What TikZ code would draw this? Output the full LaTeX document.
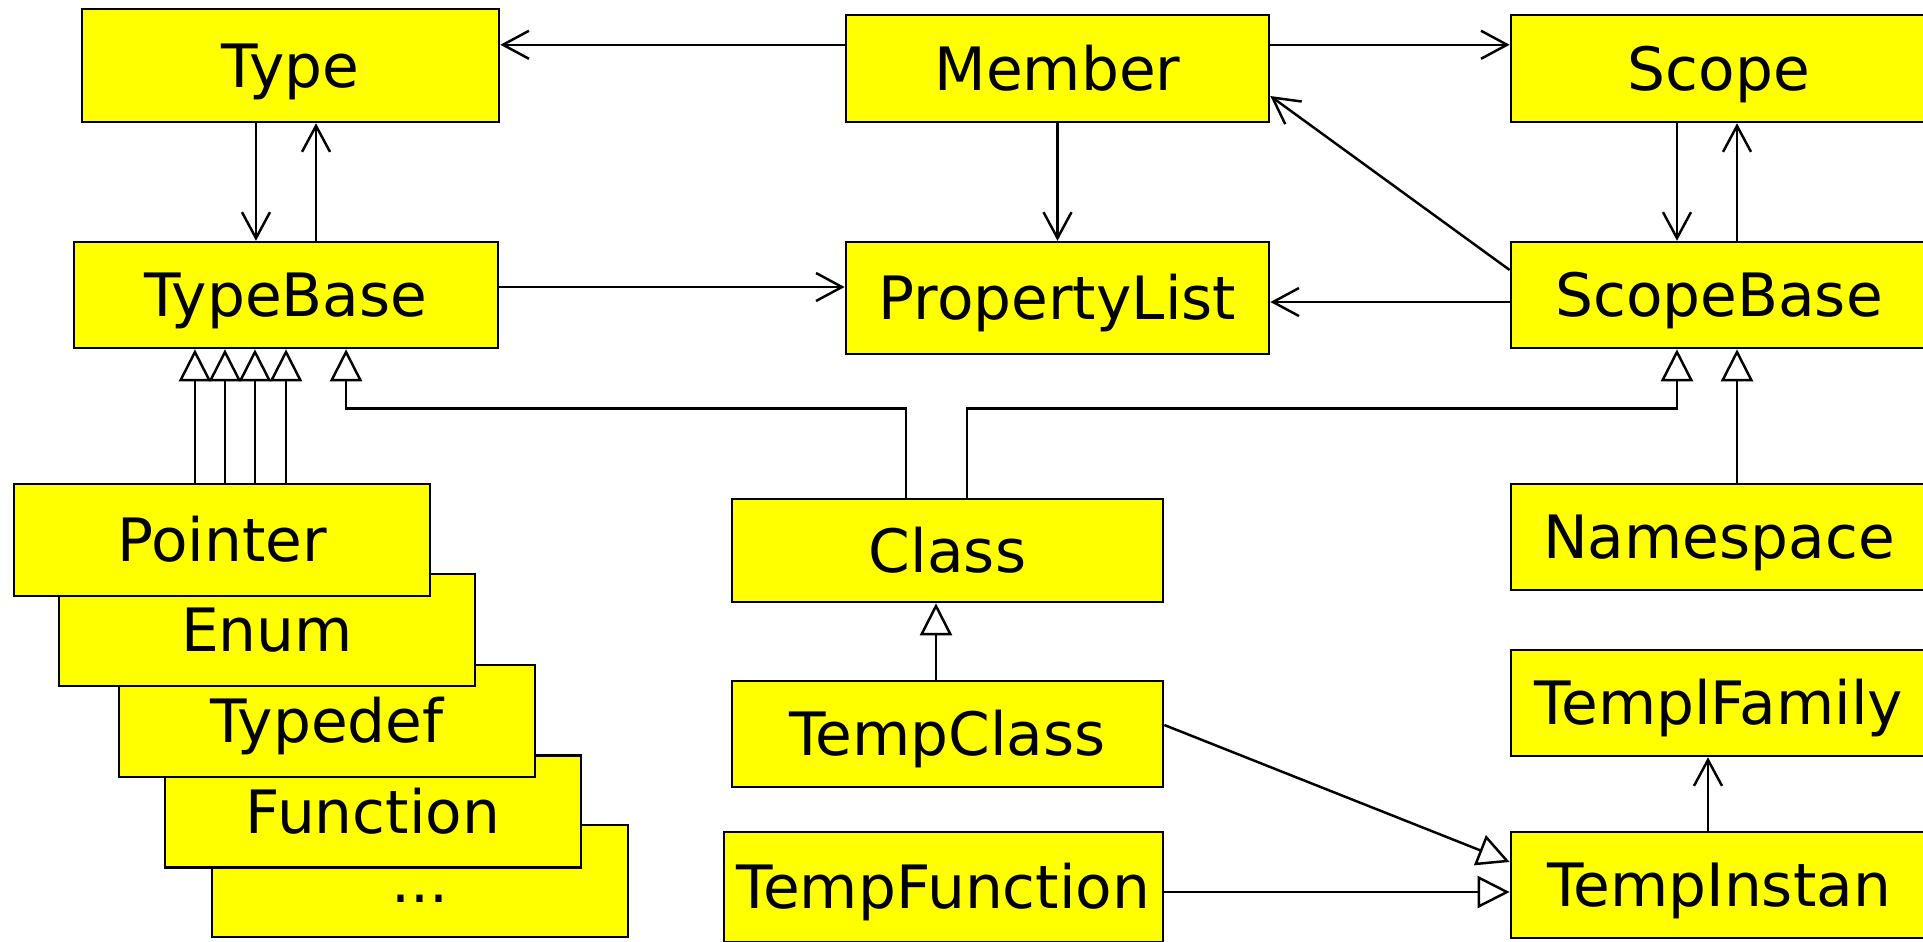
\documentclass[tikz,border=0pt]{standalone}
\usepackage{fontspec}
\setmainfont{DejaVu Sans}
\usetikzlibrary{arrows.meta,backgrounds}

\definecolor{clsfill}{RGB}{255,255,0}
\tikzset{
  cls/.style={draw, fill=clsfill, line width=0.7pt, inner sep=0pt,
    minimum width=4.16cm, minimum height=1.06cm,
    text height=12.4pt, text depth=0pt, font=\fontsize{17}{20}\selectfont},
  assoc/.style={line width=0.7pt, -{Straight Barb[length=0.26cm,width=0.28cm]}},
  inherit/.style={line width=0.7pt, -{Triangle[open,length=0.32cm,width=0.32cm]}},
}

\begin{document}
\begin{tikzpicture}[x=0.01cm, y=-0.01cm]
  \useasboundingbox (0,0) rectangle (1923,941);
  \clip (0,0) rectangle (1923,941);

  \node[cls, minimum width=4.17cm, minimum height=1.13cm] (Type) at (290.5,65.5) {Type};
  \node[cls, minimum width=4.23cm, minimum height=1.07cm] (Member) at (1057.5,68.5) {Member};
  \node[cls, minimum height=1.07cm] (Scope) at (1719,68.5) {Scope};

  \node[cls, minimum width=4.24cm] (TypeBase) at (286,295) {TypeBase};
  \node[cls, minimum width=4.23cm, minimum height=1.12cm] (PropertyList) at (1057.5,298) {PropertyList};
  \node[cls] (ScopeBase) at (1719,295) {ScopeBase};

  % stacked subtypes, back to front
  \node[cls, minimum height=1.12cm] (Dots) at (420,881) {...};
  \foreach \name/\cx/\cy in {Function/373/811.5, Typedef/327/721, Enum/267/630, Pointer/222/540}
    \node[cls, minimum height=1.12cm] (\name) at (\cx,\cy) {\name};

  \node[cls, minimum width=4.31cm, minimum height=1.03cm] (Class) at (947.5,550.5) {Class};
  \node[cls] (Namespace) at (1719,537) {Namespace};
  \node[cls, minimum width=4.31cm] (TempClass) at (947.5,734) {TempClass};
  \node[cls] (TemplFamily) at (1719,703) {TemplFamily};
  \node[cls, minimum width=4.39cm, minimum height=1.1cm] (TempFunction) at (943.5,887) {TempFunction};
  \node[cls] (TempInstan) at (1719,885) {TempInstan};

  % associations
  \draw[assoc] ([yshift=-0.31cm]Member.north west) coordinate (m1) -- (m1 -| Type.east);
  \draw[assoc] ([yshift=-0.31cm]Member.north east) coordinate (m2) -- (m2 -| Scope.west);
  \draw[assoc] ([xshift=-0.345cm]Type.south) coordinate (t1) -- (t1 |- TypeBase.north);
  \draw[assoc] ([xshift=0.3cm]TypeBase.north) coordinate (t2) -- (t2 |- Type.south);
  \draw[assoc] (Member) -- (PropertyList);
  \draw[assoc] ([yshift=0.08cm]TypeBase.east) coordinate (t3) -- (t3 -| PropertyList.west);
  \draw[assoc] ([yshift=-0.07cm]ScopeBase.west) coordinate (s1) -- (s1 -| PropertyList.east);
  \draw[assoc] ([yshift=0.25cm]ScopeBase.west) -- ([yshift=-0.275cm]Member.east);
  \draw[assoc] ([xshift=-0.42cm]Scope.south) coordinate (s2) -- (s2 |- ScopeBase.north);
  \draw[assoc] ([xshift=0.18cm]ScopeBase.north) coordinate (s3) -- (s3 |- Scope.south);
  \draw[assoc] ([xshift=-0.11cm]TempInstan.north) coordinate (i1) -- (i1 |- TemplFamily.south);

  % inheritance
  \begin{scope}[on background layer]
    \foreach \name/\dx in {Pointer/-0.91cm, Enum/-0.61cm, Typedef/-0.31cm, Function/0cm}
      \draw[inherit] ([xshift=\dx]TypeBase.south) coordinate (b) (b |- \name.north) -- (b);
  \end{scope}
  \draw[inherit] ([xshift=-0.415cm]Class.north) |- ([xshift=0.6cm,yshift=-0.59cm]TypeBase.south)
    -- ([xshift=0.6cm]TypeBase.south);
  \draw[inherit] ([xshift=0.195cm]Class.north) |- ([xshift=-0.42cm,yshift=-0.59cm]ScopeBase.south)
    -- ([xshift=-0.42cm]ScopeBase.south);
  \draw[inherit] ([xshift=0.18cm]Namespace.north) coordinate (n1) -- (n1 |- ScopeBase.south);
  \draw[inherit] ([xshift=-0.115cm]TempClass.north) coordinate (c1) -- (c1 |- Class.south);
  \draw[inherit] ([yshift=0.09cm]TempClass.east) -- ([yshift=0.23cm]TempInstan.west);
  \path ([yshift=-0.07cm]TempInstan.west) coordinate (i2);
  \draw[inherit] (i2 -| TempFunction.east) -- (i2);
\end{tikzpicture}
\end{document}
